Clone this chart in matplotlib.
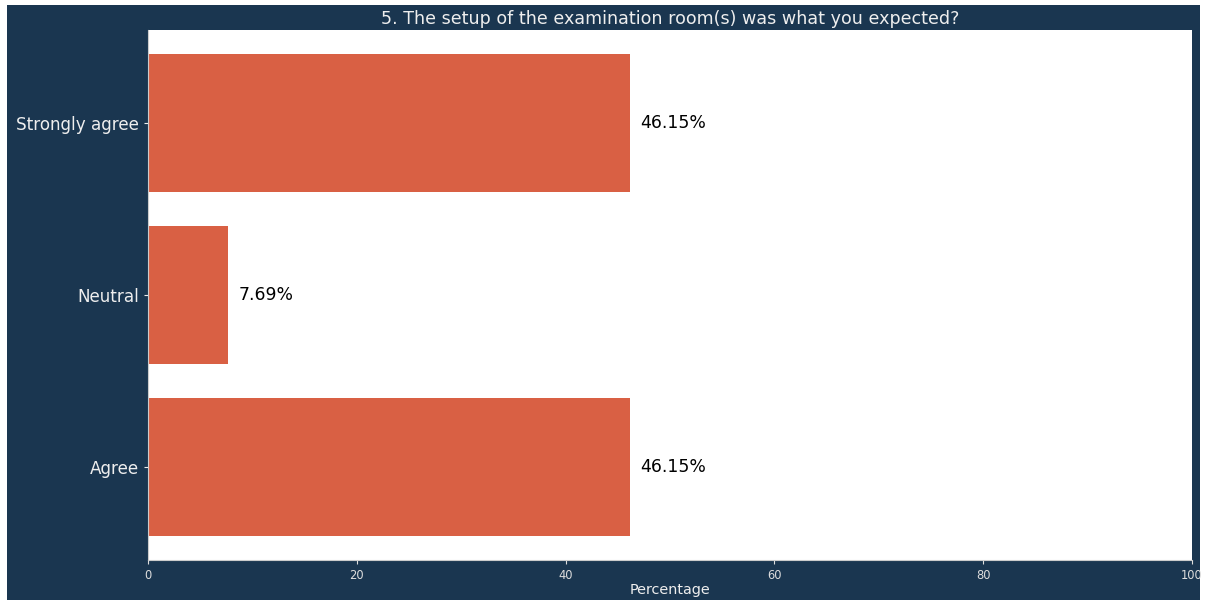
import matplotlib
matplotlib.use("Agg")
import matplotlib.pyplot as plt
from matplotlib.patches import Rectangle

plt.rcParams["font.family"] = "DejaVu Sans"

# survey answers for question 5
categories = ["Agree", "Neutral", "Strongly agree"]
percentages = [46.15, 7.69, 46.15]
x_ticks = [0, 20, 40, 60, 80, 100]

navy = "#1a3650"
bar_color = "#d96044"
text_color = "#eeeeee"

fig = plt.figure(figsize=(12.07, 6.01), dpi=100, facecolor="white")
# dark panel behind the chart
fig.patches.append(Rectangle((7 / 1207, 1 / 601), 1193 / 1207, 595 / 601,
                             transform=fig.transFigure, facecolor=navy,
                             edgecolor="none", zorder=-1))

ax = fig.add_axes([148 / 1207, 41 / 601, 1044 / 1207, 530 / 601])
ax.set_facecolor("white")

bars = ax.barh(categories, percentages, height=0.8, color=bar_color)
for b, v in zip(bars, percentages):
    ax.text(v + 1, b.get_y() + b.get_height() / 2, f"{v:.2f}%",
            va="center", ha="left", fontsize=12.4, color="black")

ax.set_xlim(0, 100)
ax.set_ylim(-0.54, 2.54)
ax.set_xticks(x_ticks)
ax.tick_params(axis="x", colors="#dddddd", labelsize=8.3, length=3)
ax.tick_params(axis="y", colors=text_color, labelsize=12.1, length=3)
for s in ["top", "right"]:
    ax.spines[s].set_visible(False)
for s in ["left", "bottom"]:
    ax.spines[s].set_color("#cccccc")

ax.set_xlabel("Percentage", color=text_color, fontsize=10.4, labelpad=1)
ax.set_title("5. The setup of the examination room(s) was what you expected?",
             color=text_color, fontsize=12.6, pad=4)

fig.savefig("out.png", dpi=100, facecolor=fig.get_facecolor())
